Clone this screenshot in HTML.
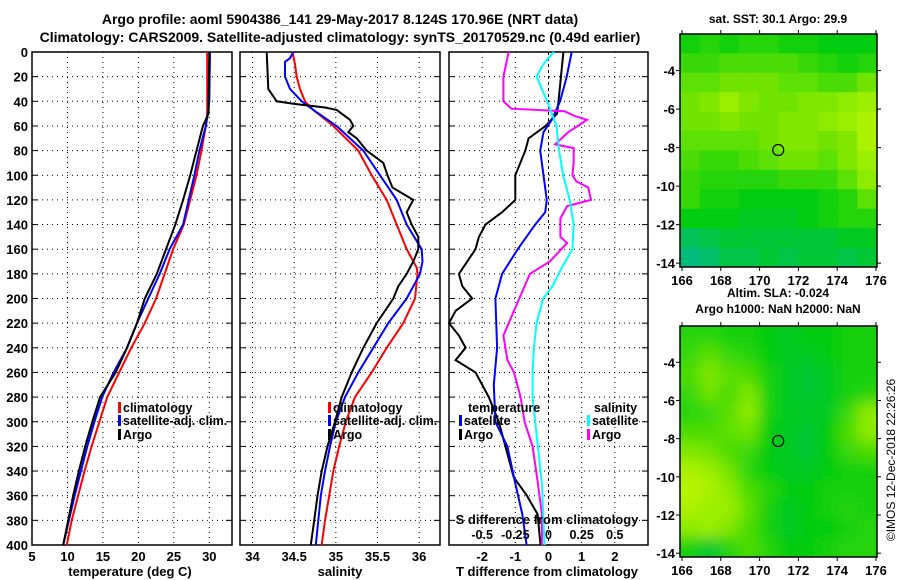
<!DOCTYPE html>
<html><head><meta charset="utf-8"><style>
html,body{margin:0;padding:0;background:#fff;}
svg{display:block;font-family:"Liberation Sans",sans-serif;font-weight:bold;}
</style></head><body>
<svg id="c" width="900" height="580" viewBox="0 0 900 580" xmlns="http://www.w3.org/2000/svg">
<defs>
<filter id="blur" x="0" y="0" width="1" height="1"><feGaussianBlur stdDeviation="7"/></filter>
<clipPath id="clipB"><rect x="680" y="326" width="197" height="231"/></clipPath>
</defs>
<text x="340" y="24" text-anchor="middle" font-size="14">Argo profile: aoml 5904386_141 29-May-2017 8.124S 170.96E (NRT data)</text>
<text x="340" y="42" text-anchor="middle" font-size="14">Climatology: CARS2009. Satellite-adjusted climatology: synTS_20170529.nc (0.49d earlier)</text>
<g id="g"></g>
</svg>
<script>
// ---------- data ----------
const depthTClim=[0,40,50,60,80,100,120,140,160,180,200,220,240,260,280,300,320,340,360,380,400];
const tClim=[29.7,29.7,29.7,29.5,28.9,28.2,27.3,26.4,24.9,23.7,22.5,20.9,19.0,17.3,15.6,14.5,13.4,12.4,11.5,10.6,9.9];
const tSat=[30.1,30.0,29.8,29.5,28.6,27.9,27.1,26.3,24.4,23.0,21.4,19.8,18.4,16.5,14.9,13.8,12.8,11.9,11.0,10.2,9.4];
const tArgo=[30.0,29.9,29.9,29.1,28.2,27.3,26.3,25.2,23.9,22.6,20.9,19.8,18.4,16.8,14.6,13.5,12.5,11.6,10.8,10.1,9.4];
const depthSArgo=[0,30,40,42,45,47,55,60,65,70,80,90,100,110,120,130,140,150,160,170,180,190,200,220,240,260,280,300,320,340,360,380,400];
const sArgo=[34.17,34.19,34.29,34.49,34.87,35.01,35.17,35.21,35.15,35.25,35.37,35.57,35.62,35.68,35.93,35.85,35.91,35.99,35.99,35.93,35.85,35.75,35.69,35.49,35.33,35.19,35.07,34.99,34.9,34.83,34.78,34.74,34.7];
const depthSSat=[0,5,8,20,30,40,47,60,80,100,120,140,160,170,180,200,220,240,260,280,300,320,340,360,380,400];
const sSat=[34.49,34.45,34.39,34.39,34.45,34.59,34.73,35.01,35.33,35.53,35.73,35.85,36.03,36.04,36.01,35.85,35.63,35.45,35.27,35.11,35.0,34.93,34.87,34.82,34.79,34.76];
const depthSClim=[0,10,20,30,40,47,60,80,100,120,140,160,175,180,200,220,240,260,280,300,320,340,360,380,400];
const sClim=[34.48,34.51,34.53,34.57,34.63,34.73,34.97,35.27,35.43,35.61,35.73,35.85,35.97,35.98,35.95,35.81,35.61,35.43,35.23,35.12,35.04,34.97,34.92,34.87,34.83];
const depthDTArgo=[0,40,50,60,70,80,100,120,130,140,150,160,180,190,200,210,220,230,240,250,260,270,280,300,320,330,345,360,375,400];
const dTArgo=[0.45,0.3,0.26,-0.09,-0.6,-0.7,-1.0,-1.0,-1.4,-1.9,-2.1,-2.2,-2.7,-2.6,-2.3,-2.8,-3.0,-2.7,-2.5,-2.8,-2.2,-2.0,-1.8,-1.5,-1.3,-1.2,-1.05,-0.65,-0.33,-0.24];
const depthDTSat=[0,20,40,55,65,80,100,120,130,140,160,180,200,240,270,300,320,350,375,400];
const dTSat=[0.7,0.55,0.35,0.1,-0.15,-0.25,-0.15,-0.05,-0.1,-0.4,-0.93,-1.4,-1.6,-1.55,-1.65,-1.6,-1.24,-1.0,-0.79,-0.66];
const depthDSArgo=[0,20,40,46,48,52,55,60,65,75,78,90,100,105,110,120,125,135,150,155,170,180,200,220,230,250,260,280,300,320,350,375,400];
const dSArgo=[-0.3,-0.34,-0.34,-0.28,0.12,0.2,0.29,0.22,0.15,0.05,0.19,0.19,0.18,0.21,0.3,0.32,0.14,0.09,0.09,0.14,0.01,-0.14,-0.22,-0.3,-0.34,-0.31,-0.26,-0.21,-0.18,-0.12,-0.08,-0.05,-0.05];
const depthDSSat=[0,10,20,40,60,80,100,120,140,160,175,190,200,220,240,260,280,300,320,350,400];
const dSSat=[0.04,-0.04,-0.09,-0.01,0.06,0.08,0.11,0.16,0.19,0.18,0.1,0.03,-0.04,-0.09,-0.11,-0.12,-0.12,-0.1,-0.08,-0.05,-0.03];
const depthTicks=[0,20,40,60,80,100,120,140,160,180,200,220,240,260,280,300,320,340,360,380,400];
const tempTicks=[5,10,15,20,25,30];
const salTicks=[34,34.5,35,35.5,36];
const tdiffTicks=[-2,-1,0,1,2];
const sdiffTicks=[-0.5,-0.25,0,0.25,0.5];
const sstGrid=[
[0.45,0.5,0.45,0.5,0.5,0.45,0.45,0.4,0.4,0.4],
[0.55,0.55,0.6,0.6,0.6,0.6,0.55,0.5,0.45,0.5],
[0.65,0.65,0.7,0.7,0.7,0.65,0.65,0.6,0.6,0.7],
[0.7,0.75,0.85,0.75,0.7,0.7,0.75,0.75,0.8,0.85],
[0.7,0.7,0.75,0.7,0.7,0.75,0.75,0.8,0.85,0.9],
[0.65,0.65,0.65,0.65,0.7,0.75,0.75,0.7,0.75,0.9],
[0.6,0.55,0.55,0.6,0.65,0.7,0.7,0.65,0.75,0.85],
[0.55,0.5,0.5,0.5,0.5,0.55,0.55,0.55,0.65,0.8],
[0.55,0.45,0.45,0.4,0.4,0.4,0.4,0.45,0.5,0.65],
[0.4,0.4,0.4,0.35,0.35,0.35,0.4,0.45,0.5,0.5],
[0.2,0.25,0.3,0.3,0.3,0.3,0.3,0.3,0.35,0.35],
[0.1,0.15,0.25,0.25,0.3,0.25,0.3,0.3,0.25,0.3]];
const slaGrid=[
[0.5,0.5,0.45,0.45,0.4,0.35,0.4,0.4,0.45,0.45],
[0.55,0.65,0.55,0.5,0.4,0.35,0.35,0.4,0.45,0.45],
[0.6,0.75,0.65,0.6,0.45,0.35,0.3,0.35,0.45,0.45],
[0.55,0.7,0.6,0.75,0.45,0.35,0.3,0.35,0.45,0.5],
[0.5,0.55,0.65,0.8,0.45,0.35,0.35,0.35,0.55,0.8],
[0.6,0.6,0.65,0.7,0.4,0.35,0.3,0.4,0.6,0.8],
[0.75,0.7,0.6,0.55,0.4,0.35,0.3,0.4,0.55,0.6],
[0.9,0.85,0.7,0.5,0.4,0.35,0.35,0.4,0.45,0.45],
[0.95,0.9,0.8,0.6,0.5,0.4,0.4,0.45,0.45,0.45],
[0.9,0.85,0.85,0.65,0.45,0.35,0.4,0.45,0.5,0.45],
[0.8,0.85,0.75,0.6,0.45,0.35,0.4,0.4,0.45,0.5],
[0.45,0.3,0.5,0.6,0.5,0.4,0.4,0.45,0.5,0.5]];
const latTicks=[-4,-6,-8,-10,-12,-14];
const lonTicks=[166,168,170,172,174,176];
const argoLon=[170.96], argoLat=[-8.124];

// ---------- helpers ----------
const NS='http://www.w3.org/2000/svg';
const G=document.getElementById('g');
function mk(tag,attrs,parent){const e=document.createElementNS(NS,tag);for(const k in attrs)e.setAttribute(k,attrs[k]);(parent||G).appendChild(e);return e;}
const Y0=52,Y1=545;
const yD=d=>Y0+(Y1-Y0)*d/400;
function xs(x0,x1,a,b){return v=>x0+(x1-x0)*(v-a)/(b-a);}
const fmt=v=>(''+v).replace('-','-');

function panel(name,x0,x1,xf,ticks,labels,gridVals,showY){
  const grp=mk('g',{});
  
  
  gridVals.forEach(v=>{const l=mk('line',{x1:xf(v),x2:xf(v),y1:Y0,y2:Y1,stroke:'#000','stroke-width':1,'stroke-dasharray':'1,4'},grp);
    
    });
  depthTicks.slice(1,-1).forEach(d=>{const l=mk('line',{x1:x0,x2:x1,y1:yD(d),y2:yD(d),stroke:'#000','stroke-width':1,'stroke-dasharray':'1,4'},grp);
    
    });
  depthTicks.forEach(d=>{mk('line',{x1:x0,x2:x0+6,y1:yD(d),y2:yD(d),stroke:'#000'},grp);mk('line',{x1:x1-6,x2:x1,y1:yD(d),y2:yD(d),stroke:'#000'},grp);
    if(showY){const t=mk('text',{x:28,y:yD(d)+5,'text-anchor':'end','font-size':13},grp);t.textContent=d;
      
      }});
  ticks.forEach((v,i)=>{const t=mk('text',{x:xf(v),y:561,'text-anchor':'middle','font-size':13},grp);t.textContent=labels[i];
    
    });
  const r=mk('rect',{x:x0,y:Y0,width:x1-x0,height:Y1-Y0,fill:'none',stroke:'#000','stroke-width':1.5},grp);
  
  
  return grp;
}
function line(grp,name,depths,vals,xf,color){
  const pts=depths.map((d,i)=>xf(vals[i]).toFixed(1)+','+yD(d).toFixed(1)).join(' ');
  const p=mk('polyline',{points:pts,fill:'none',stroke:color,'stroke-width':2},grp);
  
  
}
function legend(grp,name,x,y,color,label){
  const g=mk('g',{},grp);
  
  
  mk('rect',{x:x,y:y-10,width:3,height:11,fill:color},g);
  const t=mk('text',{x:x+5,y:y,'font-size':12.5},g);t.textContent=label;
}
function label(x,y,txt,name,size){const t=mk('text',{x:x,y:y,'text-anchor':'middle','font-size':size||13});t.textContent=txt;
  
  }

// Panel 1: temperature
const xT=xs(32,232,5,33.2);
const p1=panel('temperature-panel',32,232,xT,tempTicks,tempTicks.map(String),[10,15,20,25,30],true);
line(p1,'temp-climatology-line',depthTClim,tClim,xT,'#f00');
line(p1,'temp-satellite-line',depthTClim,tSat,xT,'#00f');
line(p1,'temp-argo-line',depthTClim,tArgo,xT,'#000');
legend(p1,'legend-climatology',118,412,'#f00','climatology');
legend(p1,'legend-satellite-adj',118,425,'#00f','satellite-adj. clim.');
legend(p1,'legend-argo',118,439,'#000','Argo');
label(130,576,'temperature (deg C)','temperature-axis-title');

// Panel 2: salinity
const xS=xs(240,440,33.85,36.25);
const p2=panel('salinity-panel',240,440,xS,salTicks,salTicks.map(String),[34,34.5,35,35.5,36],false);
line(p2,'sal-climatology-line',depthSClim,sClim,xS,'#f00');
line(p2,'sal-satellite-line',depthSSat,sSat,xS,'#00f');
line(p2,'sal-argo-line',depthSArgo,sArgo,xS,'#000');
legend(p2,'legend-climatology-2',328,412,'#f00','climatology');
legend(p2,'legend-satellite-adj-2',328,425,'#00f','satellite-adj. clim.');
legend(p2,'legend-argo-2',328,439,'#000','Argo');
label(340,576,'salinity','salinity-axis-title');

// Panel 3: differences
const xD=xs(449,648,-3,3);
const xSD=v=>xD(v*4);
const p3=panel('difference-panel',449,648,xD,tdiffTicks,tdiffTicks.map(String),[-2,-1,1,2],false);
const zl=mk('line',{x1:xD(0),x2:xD(0),y1:Y0,y2:Y1,stroke:'#000','stroke-dasharray':'3,3'},p3);


line(p3,'dT-argo-line',depthDTArgo,dTArgo,xD,'#000');
line(p3,'dT-satellite-line',depthDTSat,dTSat,xD,'#00f');
line(p3,'dS-argo-line',depthDSArgo,dSArgo,xSD,'#f0f');
line(p3,'dS-satellite-line',depthDSSat,dSSat,xSD,'#0ff');
const lt=mk('text',{x:468,y:412,'font-size':12.5},p3);lt.textContent='temperature';


legend(p3,'legend-t-satellite',459,425,'#00f','satellite');
legend(p3,'legend-t-argo',459,439,'#000','Argo');
const ls=mk('text',{x:594,y:412,'font-size':12.5},p3);ls.textContent='salinity';


legend(p3,'legend-s-satellite',587,425,'#0ff','satellite');
legend(p3,'legend-s-argo',587,439,'#f0f','Argo');
label(547,524,'S difference from climatology','s-diff-axis-title');
sdiffTicks.forEach(v=>{const t=mk('text',{x:xSD(v),y:539,'text-anchor':'middle','font-size':12.5},p3);t.textContent=String(v);
  
  });
label(547,576,'T difference from climatology','t-diff-axis-title');

// ---------- maps ----------
function col(v){
  const stops=[[0,[0,184,160]],[0.4,[0,204,16]],[0.7,[112,228,0]],[1,[200,248,0]]];
  for(let i=1;i<stops.length;i++){if(v<=stops[i][0]){const a=stops[i-1],b=stops[i],f=(v-a[0])/(b[0]-a[0]);
    return 'rgb('+a[1].map((c,j)=>Math.round(c+(b[1][j]-c)*f)).join(',')+')';}}
  return 'rgb(200,248,0)';
}
function map(name,top,bot,grid,blur,t1,t2){
  const L=680,R=877;
  const lonX=lon=>682+(lon-166)*19.4;
  const latTop=-2.1;
  const latY=lat=>top+(latTop-lat)*(bot-top)/(latTop+14.2);
  const grp=mk('g',{});
  
  
  const cells=mk('g',blur?{filter:'url(#blur)','clip-path':'url(#clipB)'}:{},grp);
  const rows=grid.length,cols=grid[0].length;
  const ch=(bot-top)/rows,cw=(R-L)/cols;
  const pad=blur?20:0;
  grid.forEach((row,i)=>row.forEach((v,j)=>{
    const x=L+j*cw-(j==0?pad:0),y=top+i*ch-(i==0?pad:0);
    const w=cw+0.5+(j==0||j==cols-1?pad:0),h=ch+0.5+(i==0||i==rows-1?pad:0);
    const r=mk('rect',{x:x,y:y,width:w,height:h,fill:col(v)},cells);
    
    }));
  const fr=mk('rect',{x:L,y:top,width:R-L,height:bot-top,fill:'none',stroke:'#000','stroke-width':1.5},grp);
  
  
  latTicks.forEach(v=>{const y=latY(v);mk('line',{x1:L-4,x2:L,y1:y,y2:y,stroke:'#000'},grp);mk('line',{x1:R,x2:R+4,y1:y,y2:y,stroke:'#000'},grp);
    const t=mk('text',{x:L-5,y:y+5,'text-anchor':'end','font-size':13},grp);t.textContent=String(v);
    
    });
  lonTicks.forEach(v=>{const x=lonX(v);mk('line',{x1:x,x2:x,y1:bot,y2:bot+4,stroke:'#000'},grp);mk('line',{x1:x,x2:x,y1:top-4,y2:top,stroke:'#000'},grp);
    const t=mk('text',{x:x,y:bot+18,'text-anchor':'middle','font-size':13},grp);t.textContent=String(v);
    
    });
  const c=mk('circle',{cx:lonX(argoLon[0]),cy:latY(argoLat[0]),r:5.5,fill:'none',stroke:'#000','stroke-width':1.2},grp);
  
  
  const a=mk('text',{x:778,y:t2?top-29:top-11,'text-anchor':'middle','font-size':12},grp);a.textContent=t1;
  
  
  if(t2){const b=mk('text',{x:778,y:top-13,'text-anchor':'middle','font-size':12},grp);b.textContent=t2;
    
    }
}
map('sst-map',34,267,sstGrid,false,'sat. SST: 30.1 Argo: 29.9');
map('sla-map',326,557,slaGrid,true,'Altim. SLA: -0.024','Argo h1000: NaN h2000: NaN');
const cr=mk('text',{x:0,y:0,'font-size':12,'font-weight':'normal',transform:'translate(895,460) rotate(-90)','text-anchor':'middle'});
cr.textContent='©IMOS 12-Dec-2018 22:26:26';


</script>
</body></html>
